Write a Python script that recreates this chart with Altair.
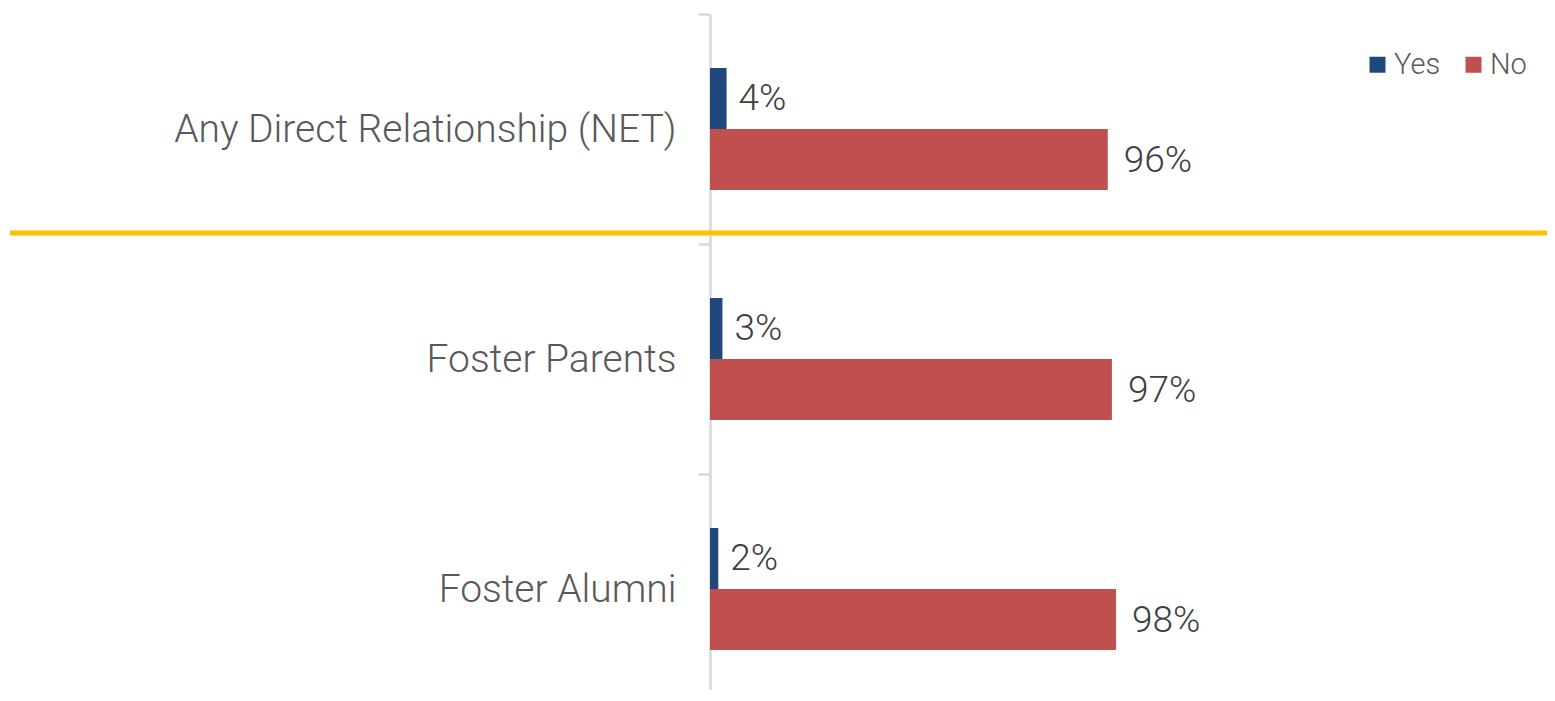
import altair as alt
import pandas as pd

categories = ["Any Direct Relationship (NET)", "Foster Parents", "Foster Alumni"]
series = ["Yes", "No"]
yes_values = [4, 3, 2]
no_values = [96, 97, 98]
colors = ["#1F497D", "#C0504D"]

rows = []
for c, yv, nv in zip(categories, yes_values, no_values):
    rows.append({"category": c, "answer": "Yes", "value": yv})
    rows.append({"category": c, "answer": "No", "value": nv})
df = pd.DataFrame(rows)
df["label"] = df["value"].astype(str) + "%"

W, H = 837, 676
FONT = "Roboto"

ycat = alt.Y(
    "category:N",
    sort=categories,
    scale=alt.Scale(paddingInner=0, paddingOuter=0, range=[0, 690]),
    axis=alt.Axis(
        title=None,
        labelFont=FONT,
        labelFontSize=39,
        labelFontWeight=300,
        labelColor="#595959",
        labelPadding=22,
        labelLimit=0,
        tickSize=12,
        tickColor="#D9D9D9",
        tickWidth=2.5,
        domainColor="#D9D9D9",
        domainWidth=2.5,
        tickBand="extent",
    ),
)
yoff = alt.YOffset("answer:N", sort=series,
                   scale=alt.Scale(paddingInner=0, paddingOuter=0.885))
x = alt.X("value:Q", scale=alt.Scale(domain=[0, 202], nice=False), axis=None)

base = alt.Chart(df)

bars = base.mark_bar().encode(
    x=x,
    y=ycat,
    yOffset=yoff,
    color=alt.Color(
        "answer:N",
        sort=series,
        scale=alt.Scale(domain=series, range=colors),
        legend=alt.Legend(
            title=None,
            orient="none",
            legendX=653,
            legendY=36,
            direction="horizontal",
            symbolType="square",
            symbolSize=256,
            symbolStrokeWidth=0,
            labelFont=FONT,
            labelFontSize=29,
            labelFontWeight=300,
            labelColor="#595959",
            columnPadding=18,
            labelOffset=2,
            padding=0,
        ),
    ),
)

yes_text = base.transform_filter(alt.datum.answer == "Yes").mark_text(
    align="left", baseline="middle", dx=12, dy=1, font=FONT, fontSize=37,
    fontWeight=300, color="#404040"
).encode(x=x, y=ycat, yOffset=yoff, text="label:N")

no_text = base.transform_filter(alt.datum.answer == "No").mark_text(
    align="left", baseline="middle", dx=16, dy=1, font=FONT, fontSize=37,
    fontWeight=300, color="#404040"
).encode(x=x, y=ycat, yOffset=yoff, text="label:N")

sep = alt.Chart(pd.DataFrame({"k": [0]})).mark_rule(
    color="#FFC000", strokeWidth=5
).encode(x=alt.value(-700), x2=alt.value(W + 10), y=alt.value(219))

chart = (
    alt.layer(bars, yes_text, no_text, sep)
    .properties(
        width=W,
        height=H,
        padding={"left": 702, "top": 6, "right": 0, "bottom": 0},
        autosize=alt.AutoSizeParams(type="none"),
    )
    .configure_view(stroke=None)
)

chart.save("out.html", embed_options={"renderer": "svg", "actions": False})
